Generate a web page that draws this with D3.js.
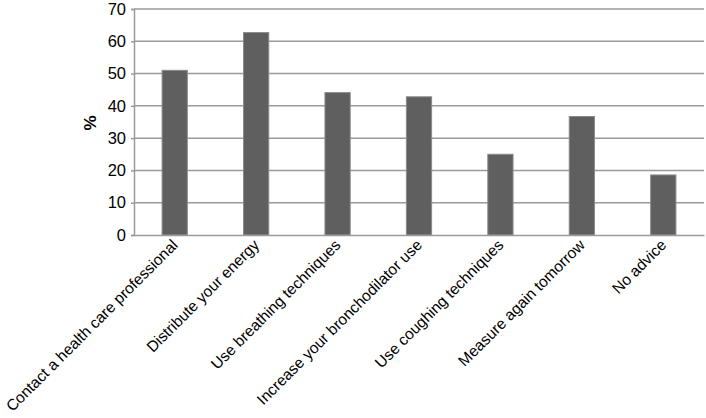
<!DOCTYPE html>
<meta charset="utf-8">
<style>
body { margin: 0; background: #fff; }
text { font-family: "Liberation Sans", Arial, sans-serif; }
</style>
<script src="https://d3js.org/d3.v7.min.js"></script>
<div id="my_dataviz"></div>
<script>

// data
var categories = ["Contact a health care professional", "Distribute your energy",
  "Use breathing techniques", "Increase your bronchodilator use",
  "Use coughing techniques", "Measure again tomorrow", "No advice"];
var percents = [51, 62.7, 44.1, 42.8, 25, 36.7, 18.6];
var yTicks = [0, 10, 20, 30, 40, 50, 60, 70];

var margin = {top: 9, right: 2, bottom: 183, left: 134},
    width = 706 - margin.left - margin.right,
    height = 418 - margin.top - margin.bottom;

var svg = d3.select("#my_dataviz")
  .append("svg")
    .attr("width", 706)
    .attr("height", 418)
  .append("g")
    .attr("transform", "translate(" + margin.left + "," + margin.top + ")");

var x = d3.scaleBand()
  .domain(categories)
  .range([0, width])
  .paddingInner(0.69)
  .paddingOuter(0.345);

var y = d3.scaleLinear()
  .domain([0, 70])
  .range([height, 0]);

// gridlines
svg.append("g")
  .selectAll("line")
  .data(yTicks.slice(1))
  .enter()
  .append("line")
    .attr("x1", 0)
    .attr("x2", width)
    .attr("y1", function(d) { return y(d); })
    .attr("y2", function(d) { return y(d); })
    .attr("stroke", "#9a9a9a")
    .attr("stroke-width", 1.5);

// bars
svg.append("g")
  .selectAll("rect")
  .data(percents)
  .enter()
  .append("rect")
    .attr("x", function(d, i) { return x(categories[i]); })
    .attr("y", function(d) { return y(d); })
    .attr("width", x.bandwidth())
    .attr("height", function(d) { return height - y(d); })
    .attr("fill", "#5f5f5f")
    .attr("stroke", "#8a8a8a")
    .attr("stroke-width", 1);

// y axis
var yAxis = svg.append("g")
  .call(d3.axisLeft(y).tickValues(yTicks).tickSize(3).tickPadding(5));
yAxis.select(".domain").attr("stroke", "#9a9a9a").attr("stroke-width", 1.5);
yAxis.selectAll(".tick line").attr("stroke", "#9a9a9a").attr("stroke-width", 1.5);
yAxis.selectAll(".tick text")
  .attr("fill", "#000")
  .style("font-size", "16.5px")
  .style("font-family", "'Liberation Sans', Arial, sans-serif");

// x axis
var xAxis = svg.append("g")
  .attr("transform", "translate(0," + height + ")")
  .call(d3.axisBottom(x).tickSize(0));
xAxis.select(".domain").attr("stroke", "#9a9a9a").attr("stroke-width", 1.5);
xAxis.selectAll(".tick text")
  .attr("fill", "#000")
  .style("font-size", "15.5px")
  .style("font-family", "'Liberation Sans', Arial, sans-serif")
  .attr("text-anchor", "end")
  .attr("dy", "0")
  .attr("y", 0)
  .attr("transform", "translate(4,11) rotate(-45)");

// y label
svg.append("text")
  .attr("transform", "translate(-38," + (y(35) + 1) + ") rotate(-90)")
  .attr("text-anchor", "middle")
  .style("font-size", "17px")
  .style("font-weight", "bold")
  .text("%");

</script>
